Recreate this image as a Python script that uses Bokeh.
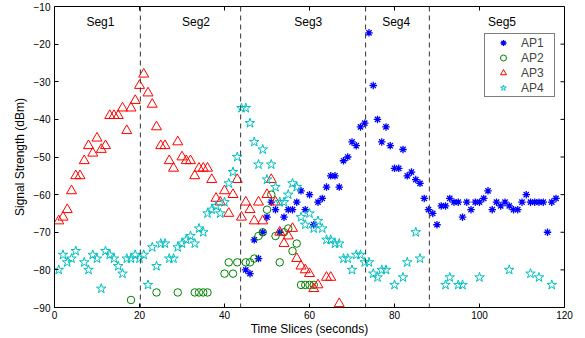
from bokeh.plotting import figure
from bokeh.models import Legend, LegendItem, FixedTicker, Span, Range1d
from bokeh.core.properties import value
from bokeh.embed import file_html
from bokeh.resources import INLINE

# ---------------- data ----------------
ap1_x = [45, 46, 47, 48, 49, 50, 51, 52, 53, 54, 55, 56, 57, 58, 59, 60, 61, 62, 63, 64,
         65, 66, 67, 68, 69, 70, 71, 72, 73, 74, 75, 76, 77, 78, 79, 80, 81, 82, 83, 84,
         85, 86, 87, 88, 89, 90, 91, 92, 93, 94, 95, 96, 97, 98, 99, 100, 101, 102, 103, 104,
         105, 106, 107, 108, 109, 110, 111, 112, 113, 114, 115, 116, 117, 118]
ap1_y = [-80, -81, -72, -77, -70, -66, -62, -64, -70, -66, -64, -64, -62, -59, -64, -60, -68, -62, -61, -58,
         -55, -55, -58, -51, -50, -46, -47, -42, -41, -17, -31, -40, -46, -42, -47, -53, -53, -48, -55, -54,
         -56, -57, -61, -64, -65, -68, -63, -63, -61, -62, -62, -66, -62, -64, -62, -62, -61, -59, -64, -62,
         -63, -62, -63, -64, -64, -62, -60, -62, -62, -62, -62, -70, -62, -61]

ap2_x = [18, 24, 29, 33, 34, 35, 36, 40, 41, 42, 43, 45, 46, 47, 48, 49, 50, 51, 52, 53,
         54, 55, 56, 57, 58, 59, 60, 61]
ap2_y = [-88, -86, -86, -86, -86, -86, -86, -81, -78, -81, -78, -78, -78, -77, -71, -70, -64, -60, -71, -78,
         -70, -69, -75, -73, -84, -84, -84, -84]

ap3_x = [1, 2, 3, 4, 5, 6, 7, 8, 9, 10, 11, 12, 13, 14, 15, 16, 17, 18, 19, 20,
         21, 22, 23, 24, 25, 26, 27, 28, 29, 30, 31, 32, 33, 34, 35, 36, 37, 38, 39, 40,
         41, 42, 43, 44, 45, 46, 47, 48, 49, 50, 51, 52, 53, 54, 55, 56, 57, 58, 59, 60,
         61, 62, 64, 65, 67]
ap3_y = [-67, -66, -64, -59, -55, -55, -51, -47, -49, -45, -48, -47, -39, -39, -39, -37, -43, -37, -35, -31,
         -28, -33, -36, -42, -47, -47, -51, -53, -46, -50, -51, -51, -55, -53, -53, -53, -56, -61, -62, -59,
         -65, -60, -56, -66, -62, -64, -67, -62, -67, -60, -56, -62, -70, -73, -71, -69, -77, -79, -80, -81,
         -85, -84, -82, -82, -89]

ap4_x = [1, 2, 3, 4, 5, 7, 8, 9, 10, 11, 12, 13, 14, 15, 16, 17, 18, 19, 20, 21,
         22, 23, 24, 25, 26, 27, 28, 29, 30, 31, 32, 33, 34, 35, 36, 37, 38, 39, 40, 41,
         42, 43, 44, 45, 46, 47, 48, 49, 50, 51, 52, 53, 54, 55, 56, 57, 58, 59, 60, 61,
         62, 63, 64, 65, 66, 67, 68, 69, 70, 71, 72, 73, 74, 75, 76, 77, 78, 80, 82, 83,
         85, 86, 92, 93, 95, 96, 100, 107, 112, 114, 117]
ap4_y = [-80, -76, -78, -77, -75, -78, -80, -76, -77, -85, -75, -76, -77, -79, -81, -77, -77, -76, -77, -76,
         -84, -74, -79, -73, -73, -77, -77, -74, -73, -72, -71, -73, -69, -70, -65, -64, -63, -65, -62, -57,
         -54, -50, -37, -37, -41, -46, -52, -48, -56, -52, -58, -62, -62, -60, -57, -58, -66, -68, -65, -69,
         -67, -69, -72, -72, -73, -73, -77, -77, -80, -76, -76, -78, -78, -81, -82, -80, -80, -84, -82, -78,
         -70, -77, -84, -82, -84, -84, -82, -80, -81, -82, -84]

series_names = ["AP1", "AP2", "AP3", "AP4"]
x_ticks = [0, 20, 40, 60, 80, 100, 120]
y_ticks = [-90, -80, -70, -60, -50, -40, -30, -20, -10]
seg_bounds = [20.2, 43.8, 73.2, 88.2]
seg_names = ["Seg1", "Seg2", "Seg3", "Seg4", "Seg5"]
seg_label_x = [10.8, 33.3, 59.7, 80.4, 105.3]
seg_label_y = [-14, -14, -14, -14, -14]

# ---------------- layout / style ----------------
FONT = "Liberation Sans"
W, H = 585, 338
B_LEFT, B_RIGHT, B_TOP, B_BOTTOM = 54, 21, 6, 31
FRAME_W = W - B_LEFT - B_RIGHT
FRAME_H = H - B_TOP - B_BOTTOM
TICK_PX = 4

x0, x1 = x_ticks[0], x_ticks[-1]
y0, y1 = y_ticks[0], y_ticks[-1]

p = figure(width=W, height=H,
           x_range=Range1d(x0, x1), y_range=Range1d(y0, y1),
           output_backend="svg", toolbar_location=None,
           min_border_left=B_LEFT, min_border_right=B_RIGHT,
           min_border_top=B_TOP, min_border_bottom=B_BOTTOM)
p.grid.visible = False
p.outline_line_color = "black"
p.outline_line_width = 1
p.background_fill_color = "white"
p.border_fill_color = "white"


def style_axis(ax, ticks):
    ax.ticker = FixedTicker(ticks=ticks)
    ax.major_tick_in = TICK_PX
    ax.major_tick_out = 0
    ax.minor_tick_line_color = None
    ax.axis_line_color = "black"
    ax.major_tick_line_color = "black"
    ax.major_label_text_font = FONT
    ax.major_label_text_font_size = "10px"
    ax.major_label_text_color = "black"
    ax.axis_label_text_font = FONT
    ax.axis_label_text_font_size = "12px"
    ax.axis_label_text_font_style = "normal"
    ax.axis_label_text_color = "black"


xa = p.xaxis[0]
style_axis(xa, x_ticks)
xa.axis_label = "Time Slices (seconds)"
xa.major_label_standoff = 3
xa.axis_label_standoff = 0

ya = p.yaxis[0]
style_axis(ya, y_ticks)
ya.axis_label = "Signal Strength (dBm)"
ya.major_label_standoff = 4
ya.axis_label_standoff = 4
ya.major_label_overrides = {t: "\u2212" + str(-t) for t in y_ticks}

# inward tick marks on the top and right edges (box style)
dx = TICK_PX * (x1 - x0) / FRAME_W
dy = TICK_PX * (y1 - y0) / FRAME_H
p.segment(x0=x_ticks, y0=[y1] * len(x_ticks), x1=x_ticks, y1=[y1 - dy] * len(x_ticks),
          line_color="black", line_width=1)
p.segment(x0=[x1] * len(y_ticks), y0=y_ticks, x1=[x1 - dx] * len(y_ticks), y1=y_ticks,
          line_color="black", line_width=1)

for b in seg_bounds:
    p.add_layout(Span(location=b, dimension="height", line_color="#333333",
                      line_width=1, line_dash="5 4"))

p.text(x=seg_label_x, y=seg_label_y, text=seg_names, text_font=value(FONT),
       text_font_size="12px", text_align="center", text_baseline="middle",
       text_color="black")

r1 = p.scatter(ap1_x, ap1_y, marker="asterisk", size=7.5, line_color="#0000FF", line_width=1.3)
r2 = p.scatter(ap2_x, ap2_y, marker="circle", size=7.5, line_color="#008000",
               fill_alpha=0, line_width=1)
r3 = p.scatter(ap3_x, ap3_y, marker="triangle", size=10, line_color="#FF0000",
               fill_alpha=0, line_width=1)
r4 = p.scatter(ap4_x, ap4_y, marker="star", size=10, line_color="#00BFBF",
               fill_alpha=0, line_width=1)

LEG_H = 62
legend = Legend(items=[LegendItem(label=n, renderers=[r]) for n, r in zip(series_names, [r1, r2, r3, r4])],
                location=(430, FRAME_H - 29 - LEG_H))
legend.border_line_color = "black"
legend.border_line_width = 1
legend.background_fill_color = "white"
legend.background_fill_alpha = 1
legend.label_text_font = FONT
legend.label_text_font_size = "12px"
legend.glyph_width = 34
legend.glyph_height = 15
legend.label_height = 15
legend.label_width = 32
legend.label_standoff = 1
legend.padding = 1
legend.spacing = 0
legend.margin = 0
p.add_layout(legend)

open("out.html", "w").write(file_html(p, INLINE))
